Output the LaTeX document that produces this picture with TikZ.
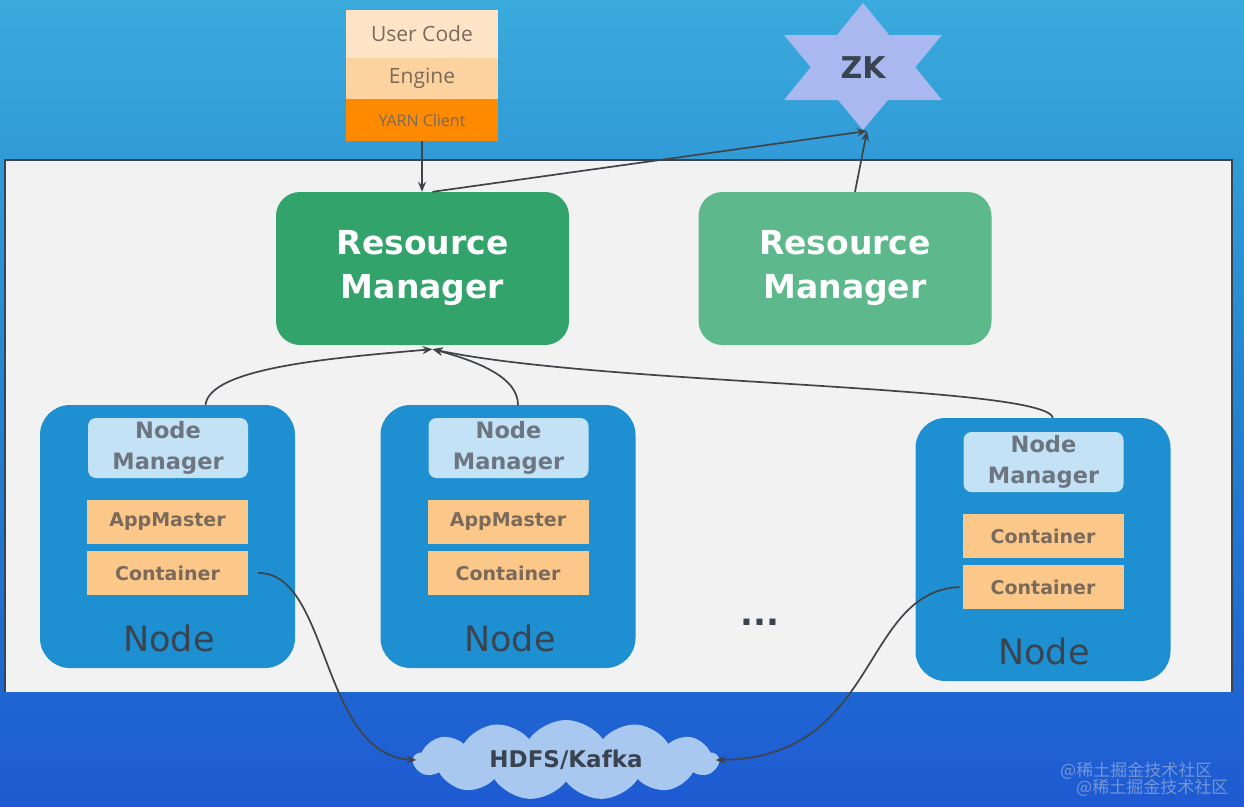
\documentclass[tikz,border=0pt]{standalone}
\usepackage{fontspec}
\setmainfont{DejaVu Sans}
\newfontfamily\opensans{Open Sans}
\newfontfamily\cjk{Noto Sans CJK SC}
\usetikzlibrary{shapes.symbols,arrows.meta}
\definecolor{bgtop}{HTML}{3AAADC}
\definecolor{bgmid}{HTML}{2384D0}
\definecolor{bgbot}{HTML}{1E5AD2}
\definecolor{panel}{HTML}{F2F2F2}
\definecolor{rmA}{HTML}{33A36C}
\definecolor{rmB}{HTML}{5DB98C}
\definecolor{nodeblue}{HTML}{1E8FD0}
\definecolor{nmfill}{HTML}{C3E2F6}
\definecolor{boxor}{HTML}{FCC88A}
\definecolor{ucfill}{HTML}{FDE4C6}
\definecolor{engfill}{HTML}{FCD39E}
\definecolor{yarnfill}{HTML}{FF8A00}
\definecolor{darktext}{HTML}{3A4450}
\definecolor{graytext}{HTML}{6C7580}
\definecolor{browntext}{HTML}{7A6A5C}
\definecolor{starfill}{HTML}{A9B9F0}
\definecolor{cloudfill}{HTML}{A9C8F0}
\definecolor{arrowc}{HTML}{404448}
\definecolor{wmark}{HTML}{8AA4D8}
\tikzset{
  rmbox/.style={rounded corners=24pt, minimum width=293pt, minimum height=153pt, text=white, align=center, font=\bfseries\fontsize{33}{44}\selectfont, inner sep=0pt},
  nodebox/.style={fill=nodeblue, rounded corners=30pt, minimum width=255pt, minimum height=263pt, inner sep=0pt},
  nmbox/.style={fill=nmfill, rounded corners=8pt, minimum width=160pt, minimum height=60pt, align=center, text=graytext, font=\bfseries\fontsize{22.5}{31}\selectfont, inner sep=0pt},
  orbox/.style={fill=boxor, minimum width=161pt, minimum height=44pt, text=browntext, font=\bfseries\fontsize{19}{22}\selectfont, inner sep=0pt},
  nodelabel/.style={text=darktext, font=\fontsize{35}{38}\selectfont, inner sep=0pt},
  stackbox/.style={minimum width=152pt, inner sep=0pt, text=browntext, font=\opensans\fontsize{21}{24}\selectfont},
  conn/.style={draw=arrowc, line width=1.7pt, -{Stealth[length=10pt,width=8pt]}},
}
\begin{document}
\begin{tikzpicture}[x=1pt,y=-1pt]
\useasboundingbox (0,0) rectangle (1244,806);
% background
\shade[top color=bgtop, bottom color=bgmid] (0,0) rectangle (1244,400);
\shade[top color=bgmid, bottom color=bgbot] (0,400) rectangle (1244,806);
% panel
\fill[panel] (5,160) rectangle (1232,692);
\draw[draw=darktext, line width=1.5pt] (5,692) -- (5,160) -- (1232,160) -- (1232,692);

% user code stack
\node[stackbox, fill=ucfill, minimum height=47pt] (uc) at (422,33.5) {User Code};
\node[stackbox, fill=engfill, minimum height=42pt] (eng) at (422,78) {Engine};
\node[stackbox, fill=yarnfill, minimum height=42pt, font=\opensans\fontsize{16}{18}\selectfont] (yarn) at (422,120) {YARN Client};
\draw[draw=white!80!orange, line width=0.6pt] (346,57) -- (498,57);

% ZK star
\fill[starfill] (863,3) -- (784,100) -- (942,100) -- cycle;
\fill[starfill] (863,130) -- (784,35) -- (942,35) -- cycle;
\node[text=darktext, font=\bfseries\fontsize{30}{32}\selectfont, inner sep=0pt] (zk) at (863,68) {ZK};
\coordinate (zkbot) at (867,131);

% resource managers
\node[rmbox, fill=rmA] (rm1) at (422.5,268.5) {Resource\\Manager};
\node[rmbox, fill=rmB] (rm2) at (845,268.5) {Resource\\Manager};

% nodes
\node[nodebox] (n1) at (167.5,536.5) {};
\node[nmbox] (nm1) at (168,448) {Node\\Manager};
\node[orbox] (am1) at (167.5,522) {AppMaster};
\node[orbox] (c1) at (167.5,573) {Container};
\node[nodelabel] (l1) at (169,638) {Node};

\node[nodebox] (n2) at (508,536.5) {};
\node[nmbox] (nm2) at (508.5,448) {Node\\Manager};
\node[orbox] (am2) at (508,522) {AppMaster};
\node[orbox] (c2) at (508,573) {Container};
\node[nodelabel] (l2) at (510,638) {Node};

\node[nodebox] (n3) at (1043,549.5) {};
\node[nmbox] (nm3) at (1043.5,462) {Node\\Manager};
\node[orbox] (c3a) at (1043,536) {Container};
\node[orbox] (c3b) at (1043,587) {Container};
\node[nodelabel] (l3) at (1044,651) {Node};

\node[font=\bfseries\fontsize{34}{36}\selectfont, text=darktext, inner sep=0pt] (dots) at (760,622) {...};

% cloud
\node[cloud, cloud puffs=13, cloud puff arc=110, aspect=4, fill=cloudfill, minimum width=305pt, minimum height=80pt, inner sep=0pt, text=darktext, font=\bfseries\fontsize{23}{26}\selectfont] (cloud) at (566,760) {HDFS/Kafka};

% connectors
\draw[conn] (yarn.south) -- (yarn.south |- rm1.north);
\draw[conn] ([xshift=10pt]rm1.north) -- (zkbot);
\draw[conn] (rm2.north) ++(10,0) -- (zkbot);
\draw[conn] (n1.north) ++(38,0) .. controls (210,368) and (330,358) .. ([xshift=10pt,yshift=-4pt]rm1.south);
\draw[conn] (n2.north) ++(10,0) .. controls (518,378) and (480,362) .. ([xshift=10pt,yshift=-4pt]rm1.south);
\draw[conn] (n3.north) ++(10,0) .. controls (1045,385) and (600,385) .. ([xshift=10pt,yshift=-4pt]rm1.south);
\draw[conn] (c1.east) ++(10,0) .. controls (330,572) and (320,755) .. ([xshift=4pt]cloud.west);
\draw[conn] (c3b.west) ++(-3,0) .. controls (860,592) and (880,758) .. ([xshift=-4pt]cloud.east);

% watermark
\node[anchor=west, text=wmark, font=\cjk\fontsize{17}{18}\selectfont, inner sep=0pt, opacity=0.8] (wm1) at (1060,771) {@稀土掘金技术社区};
\node[anchor=west, text=wmark, font=\cjk\fontsize{17}{18}\selectfont, inner sep=0pt, opacity=0.8] (wm2) at (1076,788) {@稀土掘金技术社区};
\end{tikzpicture}
\end{document}
